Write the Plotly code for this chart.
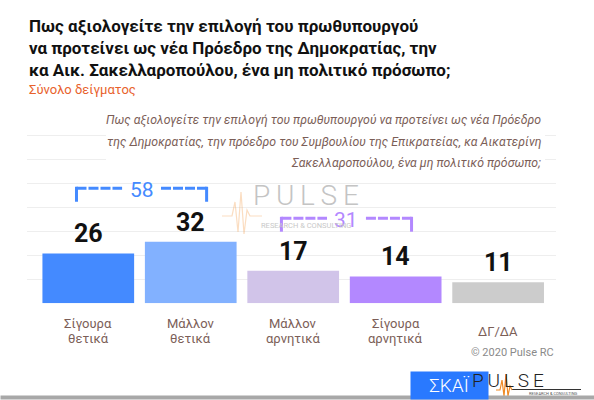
import plotly.graph_objects as go

# data
categories = ["Σίγουρα<br>θετικά", "Μάλλον<br>θετικά", "Μάλλον<br>αρνητικά", "Σίγουρα<br>αρνητικά", "ΔΓ/ΔΑ"]
values = [26, 32, 17, 14, 11]
bar_colors = ["#448aff", "#82b1ff", "#d1c4e9", "#b388ff", "#cccccc"]
# pairs of categories that get a summed bracket
group_pairs = [(0, 1), (2, 3)]
group_colors = ["#448aff", "#b388ff"]

title = ("Πως αξιολογείτε την επιλογή του πρωθυπουργού<br>"
         "να προτείνει ως νέα Πρόεδρο της Δημοκρατίας, την<br>"
         "κα Αικ. Σακελλαροπούλου, ένα μη πολιτικό πρόσωπο;")
subtitle = "Σύνολο δείγματος"
question_lines = [
    "Πως αξιολογείτε την επιλογή του πρωθυπουργού να προτείνει ως νέα Πρόεδρο",
    "της Δημοκρατίας, την πρόεδρο του Συμβουλίου της Επικρατείας, κα Αικατερίνη",
    "Σακελλαροπούλου, ένα μη πολιτικό πρόσωπο;",
]

W, H = 594, 400
BROWN = "#7b5e57"
FONT = "Roboto, 'Noto Sans', sans-serif"


def px(x):
    return x / W


def py(y):
    return 1 - y / H


x_idx = list(range(len(values)))

fig = go.Figure()
fig.add_trace(go.Bar(
    x=x_idx,
    y=values,
    marker=dict(color=bar_colors, line=dict(width=0)),
    hoverinfo="skip",
    showlegend=False,
))

annotations = []
shapes = []

# value labels above bars
for i, v in enumerate(values):
    annotations.append(dict(
        x=i, y=v, xref="x", yref="y", text=f"<b>{v}</b>", showarrow=False,
        yanchor="bottom", yshift=3,
        font=dict(family=FONT, size=25, color="#111111"),
    ))

# category labels under bars, one annotation per line
for i, lab in enumerate(categories):
    lines = lab.split("<br>")
    n = len(lines)
    for k, line in enumerate(lines):
        annotations.append(dict(
            x=i, y=py(331 + (k - (n - 1) / 2) * 14.3), xref="x", yref="paper",
            text=line, showarrow=False, yanchor="middle",
            font=dict(family=FONT, size=13, color=BROWN),
        ))

# brackets with the summed share
bracket_tops = [188.3, 218.3]
for (a, b), col, top in zip(group_pairs, group_colors, bracket_tops):
    total = values[a] + values[b]
    mid = (a + b) / 2 + 0.02
    x0, x1 = mid - 0.635, mid + 0.635
    gap = 0.19
    for xv in (x0, x1):
        shapes.append(dict(type="line", xref="x", yref="paper",
                           x0=xv, x1=xv, y0=py(top - 1.5), y1=py(top + 13.4),
                           line=dict(color=col, width=3)))
    for xa, xb in ((x0, mid - gap), (mid + gap, x1)):
        shapes.append(dict(type="line", xref="x", yref="paper",
                           x0=xa, x1=xb, y0=py(top), y1=py(top),
                           line=dict(color=col, width=3, dash="10px,2px")))
    annotations.append(dict(
        x=mid, y=py(top + 2), xref="x", yref="paper", text=str(total),
        showarrow=False, yanchor="middle",
        font=dict(family=FONT, size=21, color=col),
    ))

# white box behind the italic question
shapes.append(dict(type="rect", xref="paper", yref="paper", layer="above",
                   x0=px(106), x1=px(545), y0=py(110), y1=py(172),
                   fillcolor="white", line=dict(width=0)))

# title, subtitle, question
annotations.append(dict(
    x=px(27), y=py(14), xref="paper", yref="paper", text=f"<b>{title}</b>",
    showarrow=False, xanchor="left", yanchor="top", align="left",
    font=dict(family=FONT, size=17, color="#111111"),
))
annotations.append(dict(
    x=px(27), y=py(89), xref="paper", yref="paper", text=subtitle,
    showarrow=False, xanchor="left", yanchor="middle",
    font=dict(family=FONT, size=13, color="#e8622c"),
))
for k, line in enumerate(question_lines):
    annotations.append(dict(
        x=px(542.5), y=py(120.8 + k * 21.3), xref="paper", yref="paper",
        text=f"<i>{line}</i>", showarrow=False, xanchor="right", yanchor="middle",
        font=dict(family=FONT, size=12.3, color=BROWN),
    ))

# watermark
annotations.append(dict(
    x=px(306), y=py(195), xref="paper", yref="paper",
    text="P\u2009U\u2009L\u2009S\u2009E", showarrow=False,
    font=dict(family=FONT, size=28, color="#c4c4c4", weight=300),
))
annotations.append(dict(
    x=px(306), y=py(226), xref="paper", yref="paper",
    text="RESEARCH & CONSULTING", showarrow=False,
    font=dict(family=FONT, size=7.5, color="#c8c8c8"),
))
shapes.append(dict(type="path", xref="paper", yref="paper", opacity=0.35,
                   path=(f"M{px(222)},{py(216)} L{px(232)},{py(216)} L{px(235)},{py(202)} "
                         f"L{px(238)},{py(232)} L{px(241)},{py(192)} L{px(244)},{py(234)} "
                         f"L{px(247)},{py(210)} L{px(250)},{py(216)} L{px(262)},{py(216)}"),
                   line=dict(color="#f5a050", width=1.2)))

# copyright and logos
annotations.append(dict(
    x=px(556), y=py(352), xref="paper", yref="paper", text="© 2020 Pulse RC",
    showarrow=False, xanchor="right", yanchor="middle",
    font=dict(family=FONT, size=11, color="#8a8a8a"),
))
# grey strip along the bottom edge
annotations.append(dict(
    x=0, y=0, xref="paper", yref="paper", xanchor="left", yanchor="bottom",
    width=W, height=3, borderpad=0, bgcolor="#a8a8a8", text=" ", showarrow=False,
    font=dict(size=1),
))
annotations.append(dict(
    x=px(410), y=py(371), xref="paper", yref="paper",
    xanchor="left", yanchor="top", width=77, height=27, borderpad=0,
    bgcolor="#2979ff", text="ΣΚΑΪ", showarrow=False,
    font=dict(family=FONT, size=19, color="white", weight=300),
))
annotations.append(dict(
    x=px(546), y=py(380), xref="paper", yref="paper",
    text="P\u2009U\u2009L\u2009S\u2009E", showarrow=False, yanchor="middle",
    font=dict(family=FONT, size=19, color="#222222", weight=300),
))
annotations.append(dict(
    x=px(580), y=py(393), xref="paper", yref="paper", xanchor="right",
    text="RESEARCH & CONSULTING", showarrow=False, yanchor="middle",
    font=dict(family=FONT, size=4, color="#555555"),
))
shapes.append(dict(type="line", xref="paper", yref="paper",
                   x0=px(512), x1=px(581), y0=py(389.5), y1=py(389.5),
                   line=dict(color="#333333", width=1)))
shapes.append(dict(type="path", xref="paper", yref="paper",
                   path=(f"M{px(496)},{py(390)} L{px(500)},{py(390)} L{px(502)},{py(380)} "
                         f"L{px(504)},{py(396)} L{px(506)},{py(374)} L{px(508)},{py(396)} "
                         f"L{px(510)},{py(386)} L{px(512)},{py(390)}"),
                   line=dict(color="#f08a24", width=1.2)))

fig.update_layout(
    width=W, height=H,
    margin=dict(l=0, r=0, t=0, b=0),
    paper_bgcolor="white", plot_bgcolor="white",
    bargap=0.105,
    showlegend=False,
    annotations=annotations,
    shapes=shapes,
    font=dict(family=FONT),
    xaxis=dict(range=[-0.6, 4.56], domain=[px(26.8), px(555.5)],
               showticklabels=False, showgrid=False, zeroline=False, fixedrange=True),
    yaxis=dict(range=[0, 100], domain=[py(303.3), py(111.3)], dtick=12.5,
               showticklabels=False, showgrid=True, gridcolor="#eeeeee", gridwidth=1,
               zeroline=False, fixedrange=True),
)

# the page's default body margin would push the 594x400 figure off the window
fig.write_html("out.html", config={"displayModeBar": False},
               post_script="document.body.style.margin = '0';")
